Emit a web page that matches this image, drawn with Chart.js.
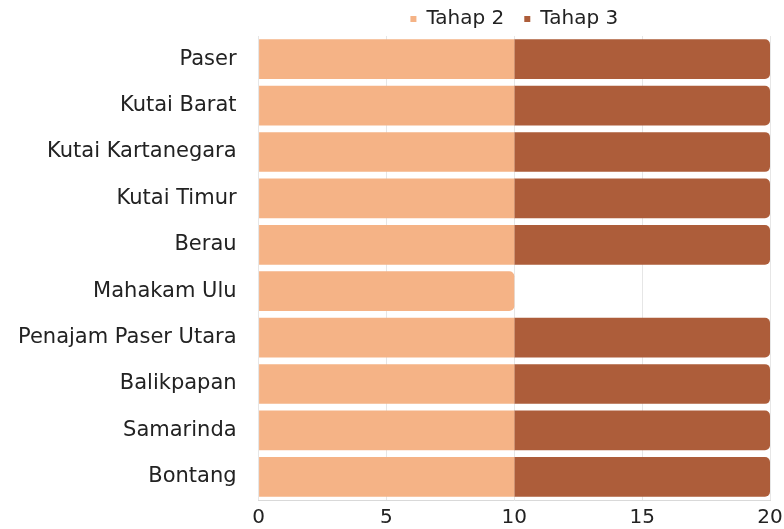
<!DOCTYPE html>
<html>
<head>
<meta charset="utf-8">
<script src="https://cdn.jsdelivr.net/npm/chart.js@4"></script>
<style>
  html, body { margin: 0; padding: 0; background: #fff; }
  #wrap { width: 784px; height: 529px; }
</style>
</head>
<body>
<div id="wrap"><canvas id="grafica"></canvas></div>
<script>
// datos
const kabupaten = ['Paser', 'Kutai Barat', 'Kutai Kartanegara', 'Kutai Timur', 'Berau',
    'Mahakam Ulu', 'Penajam Paser Utara', 'Balikpapan', 'Samarinda', 'Bontang'];
const tahap2 = [10, 10, 10, 10, 10, 10, 10, 10, 10, 10];
const tahap3 = [10, 10, 10, 10, 10, 0, 10, 10, 10, 10];
const ticksX = [0, 5, 10, 15, 20];

Chart.defaults.font.family = 'DejaVu Sans';
Chart.defaults.color = '#222222';

const data = {
    labels: kabupaten,
    datasets: [{
        label: 'Tahap 2',
        data: tahap2,
        backgroundColor: '#F5B386',
        borderWidth: 0,
        borderRadius: 5,
        borderSkipped: 'start',
        barPercentage: 0.92,
        categoryPercentage: 0.93,
    }, {
        label: 'Tahap 3',
        data: tahap3,
        backgroundColor: '#AD5D3A',
        borderWidth: 0,
        borderRadius: 5,
        borderSkipped: 'start',
        barPercentage: 0.92,
        categoryPercentage: 0.93,
    }]
};

const options = {
    indexAxis: 'y',
    animation: false,
    responsive: true,
    maintainAspectRatio: false,
    layout: { padding: { left: 4, right: 14, top: -11, bottom: -7 } },
    plugins: {
        legend: {
            display: true,
            position: 'top',
            fullSize: false,
            maxHeight: 47,
            labels: {
                usePointStyle: true,
                pointStyle: 'rect',
                boxWidth: 6,
                boxHeight: 6,
                padding: 20,
                font: { size: 20 }
            }
        },
        tooltip: { enabled: false }
    },
    scales: {
        x: {
            stacked: true,
            min: 0,
            max: 20,
            afterBuildTicks: axis => { axis.ticks = ticksX.map(v => ({ value: v })) },
            // el "20" puede salirse por la derecha como en el original
            afterFit: axis => { axis.paddingRight = 0 },
            grid: { color: '#e6e6e6', drawTicks: false },
            border: { color: '#d9d9d9' },
            ticks: { font: { size: 20 }, padding: 6, color: '#222' }
        },
        y: {
            stacked: true,
            grid: { display: false },
            border: { display: false },
            ticks: { font: { size: 21 }, padding: 14, color: '#222' }
        }
    }
};

new Chart('grafica', { type: 'bar', data, options });
</script>
</body>
</html>
